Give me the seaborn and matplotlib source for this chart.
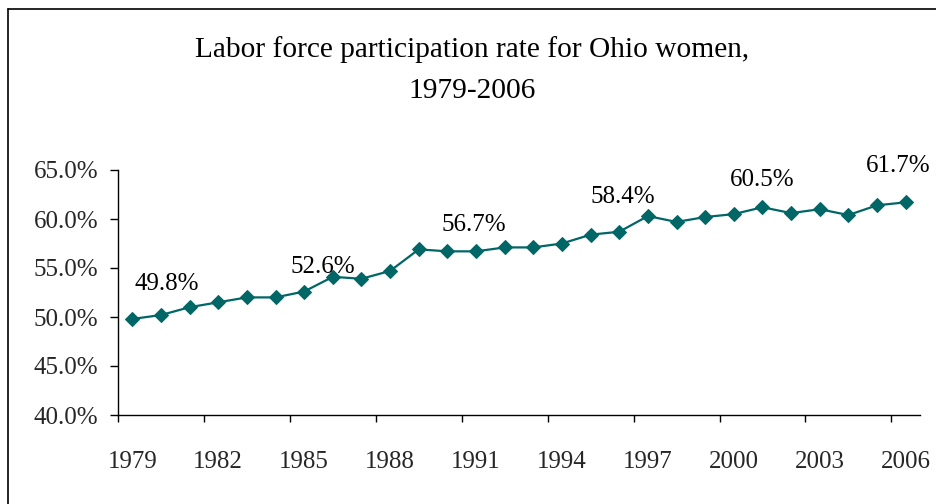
import matplotlib
matplotlib.use("Agg")
import matplotlib.pyplot as plt
from matplotlib.lines import Line2D
from matplotlib.ticker import FuncFormatter, FixedLocator
import seaborn as sns
import pandas as pd

# ---- data ----
years = [1979, 1980, 1981, 1982, 1983, 1984, 1985, 1986, 1987, 1988,
         1989, 1990, 1991, 1992, 1993, 1994, 1995, 1996, 1997, 1998,
         1999, 2000, 2001, 2002, 2003, 2004, 2005, 2006]
rate = [49.8, 50.2, 51.0, 51.5, 52.0, 52.0, 52.6, 54.1, 53.9, 54.7,
        56.9, 56.7, 56.7, 57.1, 57.1, 57.5, 58.4, 58.7, 60.3, 59.7,
        60.2, 60.5, 61.2, 60.6, 61.0, 60.4, 61.4, 61.7]
tick_years = ["1979", "1982", "1985", "1988", "1991", "1994", "1997", "2000", "2003", "2006"]
labeled_years = [1979, 1985, 1990, 1995, 2000, 2006]
title = "Labor force participation rate for Ohio women,\n1979-2006"

# label offsets in pixels (style)
label_offsets = [(34, 35), (19, 25), (26, 26), (32, 38), (28, 34), (-7, 36)]

sns.set_theme(style="white")
plt.rcParams["font.family"] = ["Liberation Serif", "DejaVu Serif"]

df = pd.DataFrame({"pos": range(len(years)), "year": years, "rate": rate})

fig = plt.figure(figsize=(9.36, 5.04), dpi=100)
W, H = 936, 504
ax = fig.add_axes([118 / W, 1 - 415 / H, (920 - 118) / W, (415 - 170) / H])

teal = "#006666"
sns.lineplot(data=df, x="pos", y="rate", ax=ax, color=teal, linewidth=1.6,
             marker="D", markersize=7.5, markeredgecolor=teal, markerfacecolor=teal)

ax.set_xlim(-0.5, len(years) - 0.5)
ax.set_ylim(40, 65)
ax.set_xlabel("")
ax.set_ylabel("")

# y axis
ax.set_yticks([40, 45, 50, 55, 60, 65])
ax.yaxis.set_major_formatter(FuncFormatter(lambda v, p: f"{v:.1f}%"))
ax.tick_params(axis="y", which="major", direction="out", length=6, width=1,
               color="black", pad=8, labelsize=18, left=True)

# x axis: tick marks between categories, labels on every third category
major_pos = [i - 0.5 for i in range(0, len(years), 3)]
minor_pos = [years.index(int(t)) for t in tick_years]
ax.xaxis.set_major_locator(FixedLocator(major_pos))
ax.xaxis.set_major_formatter(FuncFormatter(lambda v, p: ""))
ax.xaxis.set_minor_locator(FixedLocator(minor_pos))
ax.set_xticklabels(tick_years, minor=True)
ax.tick_params(axis="x", which="major", direction="out", length=5, width=1,
               color="black", bottom=True)
ax.tick_params(axis="x", which="minor", length=0, pad=26, labelsize=18, bottom=True)

for s in ["top", "right"]:
    ax.spines[s].set_visible(False)
for s in ["left", "bottom"]:
    ax.spines[s].set_color("black")
    ax.spines[s].set_linewidth(1)
ax.grid(False)

# data labels
for yr, (dx, dy) in zip(labeled_years, label_offsets):
    i = years.index(yr)
    ax.annotate(f"{rate[i]:.1f}%", xy=(i, rate[i]), xytext=(dx, dy),
                textcoords="offset pixels", ha="center", va="center",
                fontsize=18, color="black", annotation_clip=False)

# title
fig.text(472 / W, 1 - 70 / H, title, ha="center", va="center", fontsize=21.2,
         linespacing=1.75, color="black")

# chart area border (left and top visible, rest cropped)
fig.add_artist(Line2D([8 / W, 8 / W], [-0.1, 1 - 9 / H], transform=fig.transFigure,
                      color="black", linewidth=1.2))
fig.add_artist(Line2D([8 / W, 1.1], [1 - 9 / H, 1 - 9 / H], transform=fig.transFigure,
                      color="black", linewidth=1.2))

fig.savefig("out.png", dpi=100)
